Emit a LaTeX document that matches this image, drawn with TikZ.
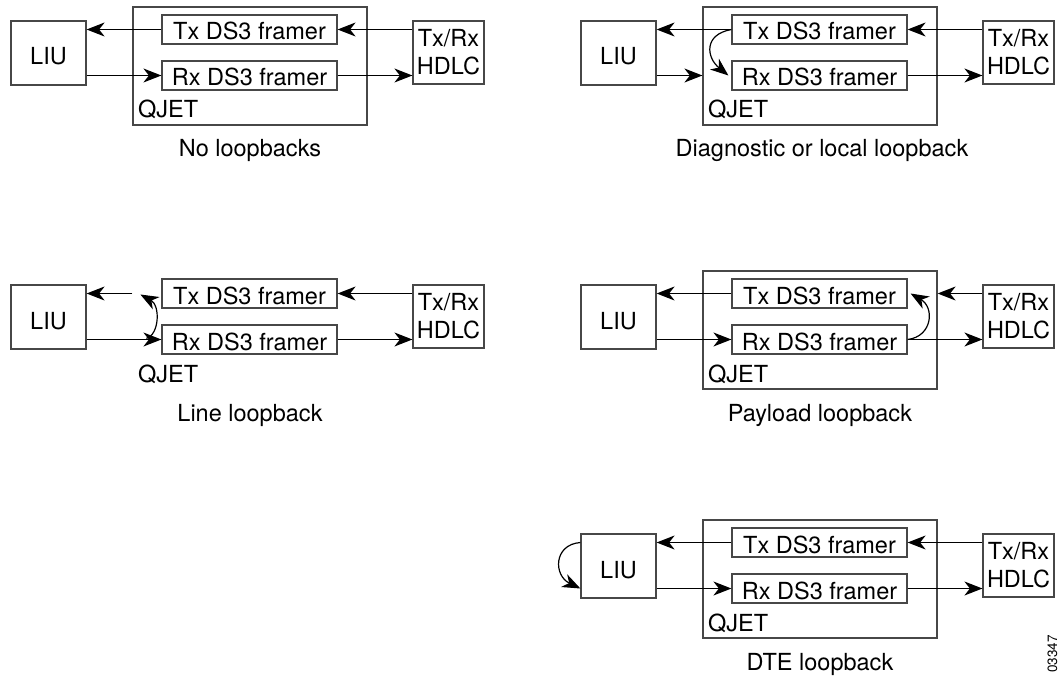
\documentclass[tikz,border=0pt]{standalone}
\usepackage{fontspec}
\setmainfont{TeX Gyre Heros}
\usetikzlibrary{arrows.meta,calc}

\tikzset{
  bx/.style={draw=black!72, line width=1.2pt, inner sep=0pt, font=\fontsize{23.5}{28}\selectfont},
  liubox/.style={bx, minimum width=75pt, minimum height=64pt, text height=24pt, text depth=0pt},
  qbox/.style={bx, minimum width=234pt, minimum height=118pt},
  frbox/.style={bx, minimum width=175pt, minimum height=29pt, text height=21pt, text depth=0pt},
  hdlcbox/.style={bx, minimum width=71pt, minimum height=63pt, align=center},
  lbl/.style={inner sep=0pt, font=\fontsize{23.5}{28}\selectfont},
  arr/.style={line width=1.2pt, -{Stealth[length=18pt,width=14pt,inset=5.5pt]}},
}

% #1 prefix, #2 x offset, #3 y offset, #4 qjet box options, #5 caption, #6 caption x
\newcommand\qjpanel[6]{%
  \begin{scope}[shift={(#2,#3)}]
    \node[qbox,#4] (#1-q) at (250,66) {};
    \node[liubox] (#1-liu) at (48.5,53) {LIU};
    \node[frbox] (#1-tx) at (249.5,29.5) {Tx DS3 framer};
    \node[frbox] (#1-rx) at (249.5,75.5) {Rx DS3 framer};
    \node[hdlcbox] (#1-hdlc) at (448.5,52.5) {Tx/Rx\\HDLC};
    \node[lbl, anchor=base west] (#1-ql) at (138,118) {QJET};
    \node[lbl, anchor=base] (#1-cap) at (#6,157) {#5};
  \end{scope}}

\begin{document}
\begin{tikzpicture}[x=1pt,y=-1pt]
\useasboundingbox (0,0) rectangle (1059,679);

% Panel 1: No loopbacks
\qjpanel{a}{0}{0}{}{No loopbacks}{250}
\draw[arr] (a-hdlc.west |- a-tx) -- (a-tx.east);
\draw[arr] (a-tx.west) -- (a-liu.east |- a-tx);
\draw[arr] (a-liu.east |- a-rx) -- (a-rx.west);
\draw[arr] (a-rx.east) -- (a-hdlc.west |- a-rx);

% Panel 2: Diagnostic or local loopback
\qjpanel{b}{570}{0}{}{Diagnostic or local loopback}{252}
\draw[arr] (b-hdlc.west |- b-tx) -- (b-tx.east);
\draw[arr] (b-tx.west) -- (b-liu.east |- b-tx);
\draw[arr] (b-liu.east |- b-rx) -- (b-q.west |- b-rx);
\draw[arr] (b-rx.east) -- (b-hdlc.west |- b-rx);
\draw[arr] (b-tx.west) .. controls +(-28,5) and +(-22,-18) .. ($(b-rx.west)+(-3,0)$);

% Panel 3: Line loopback
\qjpanel{c}{0}{264}{draw=none}{Line loopback}{250}
\draw[arr] (c-hdlc.west |- c-tx) -- (c-tx.east);
\draw[arr] (c-q.west |- c-tx) -- (c-liu.east |- c-tx);
\draw[arr] (c-liu.east |- c-rx) -- (c-rx.west);
\draw[arr] (c-rx.east) -- (c-hdlc.west |- c-rx);
\draw[arr] ($(c-rx.west)+(-15,-1)$) .. controls +(13,-4) and +(20,11) .. ($(c-q.west |- c-tx)+(8,1)$);

% Panel 4: Payload loopback
\qjpanel{d}{570}{264}{}{Payload loopback}{250}
\draw[arr] (d-hdlc.west |- d-tx) -- (d-q.east |- d-tx);
\draw[arr] (d-tx.west) -- (d-liu.east |- d-tx);
\draw[arr] (d-liu.east |- d-rx) -- (d-rx.west);
\draw[arr] (d-rx.east) -- (d-hdlc.west |- d-rx);
\draw[arr] (d-rx.east) .. controls +(25,-3) and +(24,14) .. ($(d-tx.east)+(3,0)$);

% Panel 5: DTE loopback
\qjpanel{e}{570}{513}{}{DTE loopback}{250}
\draw[arr] (e-hdlc.west |- e-tx) -- (e-tx.east);
\draw[arr] (e-tx.west) -- (e-liu.east |- e-tx);
\draw[arr] (e-liu.east |- e-rx) -- (e-rx.west);
\draw[arr] (e-rx.east) -- (e-hdlc.west |- e-rx);
\draw[arr] (e-liu.west |- e-tx) .. controls +(-27,2) and +(-27,-13) .. (e-liu.west |- e-rx);

% Figure number
\node[inner sep=0pt, rotate=90, font=\fontsize{13.5}{16}\selectfont] (fignum) at (1052.5,654) {03347};
\end{tikzpicture}
\end{document}
